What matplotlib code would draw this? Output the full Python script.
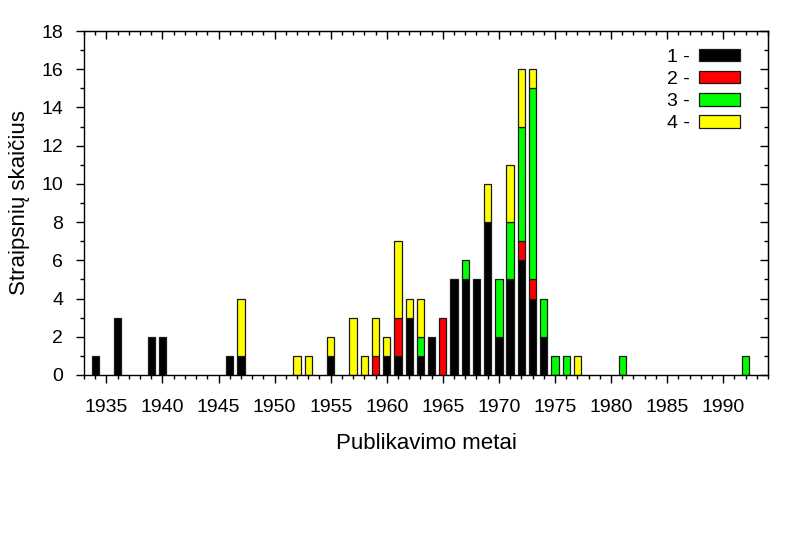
import matplotlib
matplotlib.use("Agg")
import matplotlib.pyplot as plt
import numpy as np
from matplotlib.ticker import MultipleLocator

plt.rcParams["font.family"] = ["Liberation Sans", "DejaVu Sans"]

# publication years and article counts per category (stacked 1 → 4)
years = [1934, 1936, 1939, 1940, 1946, 1947, 1952, 1953, 1955, 1957, 1958,
         1959, 1960, 1961, 1962, 1963, 1964, 1965, 1966, 1967, 1968, 1969,
         1970, 1971, 1972, 1973, 1974, 1975, 1976, 1977, 1981, 1992]
cat1 = [1, 3, 2, 2, 1, 1, 0, 0, 1, 0, 0,
        0, 1, 1, 3, 1, 2, 0, 5, 5, 5, 8,
        2, 5, 6, 4, 2, 0, 0, 0, 0, 0]
cat2 = [0, 0, 0, 0, 0, 0, 0, 0, 0, 0, 0,
        1, 0, 2, 0, 0, 0, 3, 0, 0, 0, 0,
        0, 0, 1, 1, 0, 0, 0, 0, 0, 0]
cat3 = [0, 0, 0, 0, 0, 0, 0, 0, 0, 0, 0,
        0, 0, 0, 0, 1, 0, 0, 0, 1, 0, 0,
        3, 3, 6, 10, 2, 1, 1, 0, 1, 1]
cat4 = [0, 0, 0, 0, 0, 3, 1, 1, 1, 3, 1,
        2, 1, 4, 1, 2, 0, 0, 0, 0, 0, 2,
        0, 3, 3, 1, 0, 0, 0, 1, 0, 0]
labels = ["1 -", "2 -", "3 -", "4 -"]
colors = ["#000000", "#ff0000", "#00ff00", "#ffff00"]

TICK_FS = 14
LABEL_FS = 16

fig = plt.figure(figsize=(8.0, 5.45), dpi=100)
ax = fig.add_axes([0.105, 0.312, 0.855, 0.631])

x = np.array(years, dtype=float)
bottom = np.zeros(len(years))
for values, color, label in zip([cat1, cat2, cat3, cat4], colors, labels):
    v = np.array(values, dtype=float)
    mask = v > 0
    ax.bar(x[mask], v[mask], width=0.65, bottom=bottom[mask], color=color,
           edgecolor="#1a1a1a", linewidth=0.9, label=label)
    bottom += v

ax.set_xlim(1933, 1994)
ax.set_ylim(0, 18)
ax.set_xticks(range(1935, 1991, 5))
ax.xaxis.set_minor_locator(MultipleLocator(1))
ax.yaxis.set_major_locator(MultipleLocator(2))
ax.yaxis.set_minor_locator(MultipleLocator(1))

ax.tick_params(axis="both", which="both", labelsize=TICK_FS, width=1.0, direction="out")
ax.tick_params(which="major", length=6)
ax.tick_params(which="minor", length=3)
ax.tick_params(axis="x", which="major", pad=11.5)
ax.tick_params(axis="y", which="major", pad=9)

# inward ticks on top and right spines
sec_x = ax.secondary_xaxis("top")
sec_x.xaxis.set_major_locator(MultipleLocator(5))
sec_x.xaxis.set_minor_locator(MultipleLocator(1))
sec_x.tick_params(which="both", direction="in", labeltop=False, width=1.0)
sec_x.tick_params(which="major", length=6)
sec_x.tick_params(which="minor", length=3)
sec_y = ax.secondary_yaxis("right")
sec_y.yaxis.set_major_locator(MultipleLocator(2))
sec_y.yaxis.set_minor_locator(MultipleLocator(1))
sec_y.tick_params(which="both", direction="in", labelright=False, width=1.0)
sec_y.tick_params(which="major", length=6)
sec_y.tick_params(which="minor", length=3)

for spine in ax.spines.values():
    spine.set_linewidth(1.0)

ax.set_xlabel("Publikavimo metai", fontsize=LABEL_FS, labelpad=12)
ax.set_ylabel("Straipsnių skaičius", fontsize=LABEL_FS, labelpad=8)

ax.legend(loc="upper right", frameon=False, markerfirst=False, fontsize=TICK_FS,
          handlelength=2.1, handleheight=0.62, labelspacing=0.26,
          handletextpad=0.5, bbox_to_anchor=(0.985, 1.0))

fig.savefig("out.png", dpi=100)
